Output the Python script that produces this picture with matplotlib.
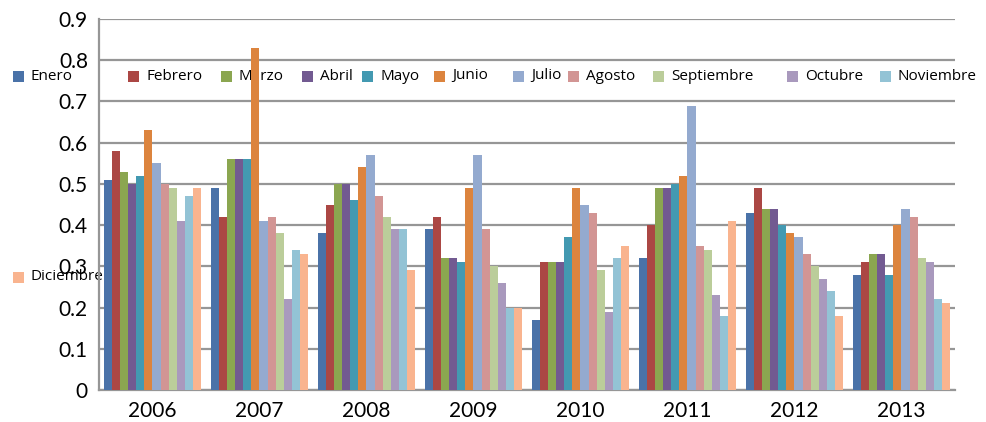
#!/usr/bin/env python3

# Import special modules ...
import matplotlib
matplotlib.use("Agg")
import matplotlib.pyplot
import matplotlib.patches
import numpy

# ******************************************************************************

# Define data ...
years = ["2006", "2007", "2008", "2009", "2010", "2011", "2012", "2013"]
months = ["Enero", "Febrero", "Marzo", "Abril", "Mayo", "Junio", "Julio",
          "Agosto", "Septiembre", "Octubre", "Noviembre", "Diciembre"]
enero      = [0.51, 0.49, 0.38, 0.39, 0.17, 0.32, 0.43, 0.28]
febrero    = [0.58, 0.42, 0.45, 0.42, 0.31, 0.40, 0.49, 0.31]
marzo      = [0.53, 0.56, 0.50, 0.32, 0.31, 0.49, 0.44, 0.33]
abril      = [0.50, 0.56, 0.50, 0.32, 0.31, 0.49, 0.44, 0.33]
mayo       = [0.52, 0.56, 0.46, 0.31, 0.37, 0.50, 0.40, 0.28]
junio      = [0.63, 0.83, 0.54, 0.49, 0.49, 0.52, 0.38, 0.40]
julio      = [0.55, 0.41, 0.57, 0.57, 0.45, 0.69, 0.37, 0.44]
agosto     = [0.50, 0.42, 0.47, 0.39, 0.43, 0.35, 0.33, 0.42]
septiembre = [0.49, 0.38, 0.42, 0.30, 0.29, 0.34, 0.30, 0.32]
octubre    = [0.41, 0.22, 0.39, 0.26, 0.19, 0.23, 0.27, 0.31]
noviembre  = [0.47, 0.34, 0.39, 0.20, 0.32, 0.18, 0.24, 0.22]
diciembre  = [0.49, 0.33, 0.29, 0.20, 0.35, 0.41, 0.18, 0.21]
series = [enero, febrero, marzo, abril, mayo, junio, julio, agosto,
          septiembre, octubre, noviembre, diciembre]
yticks = [0.0, 0.1, 0.2, 0.3, 0.4, 0.5, 0.6, 0.7, 0.8, 0.9]
ylabels = ["0", "0.1", "0.2", "0.3", "0.4", "0.5", "0.6", "0.7", "0.8", "0.9"]

# Define styles ...
colours = ["#4a72a8", "#ab4744", "#8ba650", "#725a91", "#4399b1", "#dc843e",
           "#94aacf", "#d29594", "#bbcd9a", "#a999bd", "#93c3d5", "#f9b48f"]

# Legend positions (pixels from top-left of figure) ...
legx = [13, 128, 221, 302, 362, 434, 513, 568, 653, 787, 880, 13]
legy = [76, 76, 76, 76, 76, 76, 76, 76, 76, 76, 76, 277]

# ******************************************************************************

# Configure matplotlib ...
matplotlib.pyplot.rcParams.update({"font.family" : ["Lato", "DejaVu Sans"]})

W, H = 987, 422

# Create plot ...
fg = matplotlib.pyplot.figure(figsize = (W / 100.0, H / 100.0), dpi = 100)
ax = fg.add_axes([99.0 / W, 1.0 - 390.0 / H, 856.0 / W, 371.0 / H])

# Add bars ...
x = numpy.arange(len(years))
bw = 0.9 / len(series)
for i, vals in enumerate(series):
    ax.bar(x - 0.45 + bw * (i + 0.5), vals, width = bw, color = colours[i],
           linewidth = 0, zorder = 3, label = months[i])

# Configure axes ...
ax.set_xlim(-0.5, len(years) - 0.5)
ax.set_ylim(0.0, 0.9)
ax.set_yticks(yticks)
ax.set_yticklabels(ylabels)
ax.set_xticks(x)
ax.set_xticklabels(years)
ax.tick_params(axis = "both", length = 0, labelsize = 15, colors = "black")
ax.tick_params(axis = "y", pad = 8)
ax.tick_params(axis = "x", pad = 8)
ax.yaxis.grid(True, color = "#969696", linewidth = 1.6, zorder = 0)
ax.set_axisbelow(True)
for side in ["top", "right"]:
    ax.spines[side].set_visible(False)
for side in ["left", "bottom"]:
    ax.spines[side].set_color("#969696")
    ax.spines[side].set_linewidth(1.6)

# Add legend (drawn below the bars) ...
for i, name in enumerate(months):
    x0 = legx[i] / W
    y0 = 1.0 - legy[i] / H
    ax.add_patch(matplotlib.patches.Rectangle((x0, y0 - 5.5 / H), 11.0 / W, 11.0 / H,
                 transform = fg.transFigure, clip_on = False, facecolor = colours[i],
                 edgecolor = "none", zorder = 1))
    ax.text(x0 + 18.0 / W, y0, name, transform = fg.transFigure, fontsize = 11,
            family = ["Open Sans", "DejaVu Sans"], va = "center", ha = "left",
            clip_on = False, zorder = 1)

# Save plot ...
fg.savefig("out.png", dpi = 100)
matplotlib.pyplot.close(fg)
